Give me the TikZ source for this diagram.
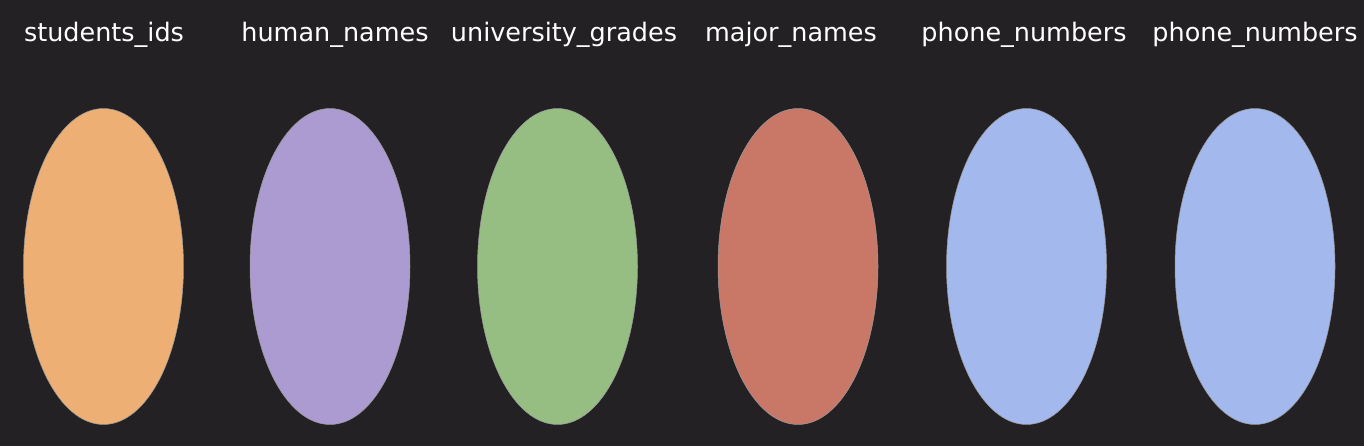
\documentclass[tikz,border=0pt]{standalone}
\usepackage{fontspec}
\setmainfont{DejaVu Sans}
\usetikzlibrary{shapes.geometric}
\usetikzlibrary{positioning}

\definecolor{bgdark}{HTML}{232123}
\definecolor{setorange}{HTML}{EDAF73}
\definecolor{setpurple}{HTML}{AB9BD0}
\definecolor{setgreen}{HTML}{96BE83}
\definecolor{setred}{HTML}{C97868}
\definecolor{setblue}{HTML}{A3B8EC}

\tikzset{
  set/.style={ellipse, inner sep=0pt, minimum width=3.2cm, minimum height=6.32cm, draw=black!40, line width=0.3pt},
  setname/.style={text=white, font=\fontsize{14.5}{16}\selectfont, inner sep=0pt}
}

\begin{document}
\begin{tikzpicture}[x=0.02cm, y=-0.02cm]
\fill[bgdark] (0,0) rectangle (1364,446);
\useasboundingbox (0,0) rectangle (1364,446);
% sets
\node[set, fill=setorange] (ids) at (103.5,266.5) {};
\node[set, fill=setpurple] (names) at (330,266.5) {};
\node[set, fill=setgreen] (grades) at (557.5,266.5) {};
\node[set, fill=setred] (majors) at (798,266.5) {};
\node[set, fill=setblue] (phonesa) at (1026.5,266.5) {};
\node[set, fill=setblue] (phonesb) at (1255,266.5) {};
% names of the sets
\node[setname] (idslbl) at (104,35) {students\_ids};
\node[setname] (nameslbl) at (335,35) {human\_names};
\node[setname] (gradeslbl) at (564,35) {university\_grades};
\node[setname] (majorslbl) at (791,35) {major\_names};
\node[setname] (phonesalbl) at (1024,35) {phone\_numbers};
\node[setname] (phonesblbl) at (1255,35) {phone\_numbers};
\end{tikzpicture}
\end{document}
